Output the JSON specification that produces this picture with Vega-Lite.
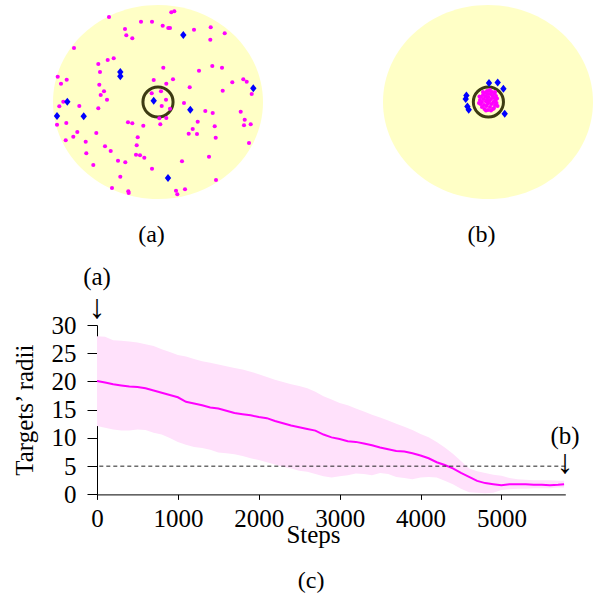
{
  "$schema": "https://vega.github.io/schema/vega-lite/v6.json",
  "padding": {"left": 12, "top": 4, "right": 0, "bottom": 0},
  "config": {
    "view": {"stroke": null},
    "font": "Liberation Serif",
    "axis": {"labelFont": "Liberation Serif", "titleFont": "Liberation Serif", "labelFontSize": 25, "titleFontSize": 25, "titleFontWeight": "normal", "labelColor": "black", "titleColor": "black", "domainColor": "black", "tickColor": "black", "grid": false, "labelFlush": false, "labelOverlap": false},
    "title": {"font": "Liberation Serif", "fontSize": 24, "fontWeight": "normal", "color": "black"}
  },
  "datasets": {
    "arena": [{"x": 0, "y": 0}],
    "goalA": [{"x": 0, "y": 0}],
    "goalB": [{"x": 0.4, "y": 0}],
    "targetsA": [
      {"x": -49, "y": 85}, {"x": 13.3, "y": 89.7}, {"x": 16.3, "y": 90.7}, {"x": -17, "y": 80.3}, {"x": -6, "y": 80.3}, {"x": 4.7, "y": 76.3}, {"x": 10.3, "y": 74}, {"x": 12, "y": 74}, {"x": -33, "y": 73}, {"x": 36, "y": 72.3},
      {"x": 52.7, "y": 74.7}, {"x": 66.7, "y": 68.7}, {"x": -31.7, "y": 66.7}, {"x": -25.7, "y": 63.7}, {"x": 52.3, "y": 62.3}, {"x": -84, "y": 54}, {"x": -50.3, "y": 42}, {"x": -44.3, "y": 43.7}, {"x": -59.7, "y": 38}, {"x": -58, "y": 30},
      {"x": 5.3, "y": 34.3}, {"x": 41, "y": 31.3}, {"x": 54.3, "y": 36}, {"x": 64, "y": 34.3}, {"x": -100.3, "y": 25.3}, {"x": -91.3, "y": 22.3}, {"x": -97, "y": 18.3}, {"x": -58.7, "y": 17.3}, {"x": -4.3, "y": 22}, {"x": 8.3, "y": 18.3},
      {"x": 15, "y": 22.7}, {"x": 31.7, "y": 14.7}, {"x": 74.3, "y": 19.7}, {"x": 85.3, "y": 22.7}, {"x": 88.7, "y": 20.3}, {"x": -54, "y": 10.7}, {"x": -57.3, "y": 7}, {"x": 64.7, "y": 11.3}, {"x": 93.7, "y": 8}, {"x": -6.3, "y": 8.7},
      {"x": 3, "y": 10.7}, {"x": -51, "y": 2.3}, {"x": -94.7, "y": 0.3}, {"x": 8, "y": 2.3}, {"x": -98.7, "y": -4.3}, {"x": -78.7, "y": -4}, {"x": 3.7, "y": -4}, {"x": -59.7, "y": -6.3}, {"x": 26, "y": -1}, {"x": 12, "y": -6.7},
      {"x": 47.3, "y": -9}, {"x": 54.7, "y": -11}, {"x": 82.7, "y": -9.7}, {"x": 1.3, "y": -16.3}, {"x": 8.3, "y": -16}, {"x": 86.7, "y": -17.7}, {"x": -30, "y": -20.3}, {"x": -25.7, "y": -21.3}, {"x": -14.7, "y": -23.7}, {"x": 2.3, "y": -22.3},
      {"x": 39.7, "y": -19.7}, {"x": -101, "y": -22.7}, {"x": -91.7, "y": -21}, {"x": 86, "y": -23.3}, {"x": 92.7, "y": -22.3}, {"x": 56.7, "y": -24.3}, {"x": 34.7, "y": -27}, {"x": 30.7, "y": -31.7}, {"x": 39, "y": -32}, {"x": -80.7, "y": -30},
      {"x": -84.7, "y": -34.7}, {"x": -61.7, "y": -31}, {"x": -20.3, "y": -35.3}, {"x": 57.7, "y": -35.7}, {"x": -92.3, "y": -38.3}, {"x": -72.3, "y": -39.7}, {"x": 91, "y": -41}, {"x": -53, "y": -44.3}, {"x": -21.3, "y": -43.3}, {"x": -47.3, "y": -49},
      {"x": -71.7, "y": -51.3}, {"x": -22, "y": -52.7}, {"x": -18, "y": -53.3}, {"x": -13.7, "y": -55.7}, {"x": 51, "y": -54.7}, {"x": -40, "y": -58.7}, {"x": -32.7, "y": -60.3}, {"x": 24, "y": -59.3}, {"x": -64.7, "y": -63}, {"x": -6, "y": -66.7},
      {"x": -37.7, "y": -74.7}, {"x": 58, "y": -78}, {"x": -46, "y": -86}, {"x": -29.7, "y": -89.3}, {"x": -29.3, "y": -91}, {"x": 18, "y": -88.7}, {"x": 27, "y": -87.3}, {"x": 19.3, "y": -92.3}
    ],
    "agentsA": [
      {"x": 25.3, "y": 67}, {"x": -37.7, "y": 30}, {"x": -37.7, "y": 25.7}, {"x": -90.7, "y": 0.3}, {"x": -101, "y": -14},
      {"x": -74.3, "y": -14.3}, {"x": -4.3, "y": 1.3}, {"x": 32.3, "y": -7.7}, {"x": 95.3, "y": 13.7}, {"x": 10, "y": -76}
    ],
    "targetsB": [
      {"x": -8, "y": 2}, {"x": -7.5, "y": -2}, {"x": -7, "y": 5}, {"x": -6, "y": -5}, {"x": -6, "y": 0}, {"x": -5, "y": 7}, {"x": -4.5, "y": 3}, {"x": -4, "y": -3}, {"x": -3.5, "y": -7}, {"x": -3, "y": 9},
      {"x": -2.5, "y": 5.5}, {"x": -2, "y": 0.5}, {"x": -1.5, "y": -4}, {"x": -1, "y": 2.5}, {"x": -0.5, "y": 8}, {"x": 0, "y": -8}, {"x": 0, "y": -1.5}, {"x": 0.5, "y": 5}, {"x": 1, "y": 11}, {"x": 1.5, "y": 1},
      {"x": 2, "y": -5}, {"x": 2.5, "y": 8}, {"x": 3, "y": 3}, {"x": 3.5, "y": -2}, {"x": 4, "y": 10}, {"x": 4.5, "y": 6}, {"x": 5, "y": -7}, {"x": 5.5, "y": 0}, {"x": 6, "y": 4}, {"x": 6.5, "y": 8.5},
      {"x": 7, "y": -3}, {"x": 7.5, "y": 1.5}, {"x": 8, "y": 6}, {"x": 8.5, "y": -1}, {"x": 9, "y": 3.5}, {"x": -9, "y": -1}, {"x": 3, "y": -8.5}, {"x": -2, "y": -8.5}, {"x": 6, "y": -6}, {"x": -5, "y": 10},
      {"x": 2, "y": 12}, {"x": -1, "y": 11}, {"x": 7, "y": 10}, {"x": 9.5, "y": -4}, {"x": -8.5, "y": 5.5}
    ],
    "agentsB": [
      {"x": 1, "y": 19}, {"x": 9.7, "y": 19.6}, {"x": 15.4, "y": 13.3}, {"x": -22.3, "y": 3}, {"x": -21.6, "y": 6.5},
      {"x": -19.3, "y": -7.7}, {"x": -20.6, "y": -4.4}, {"x": 16.7, "y": -11.7}
    ],
    "radii": [
      {"step": 0, "mean": 20.1, "lo": 12.1, "hi": 28.0}, {"step": 100, "mean": 19.8, "lo": 11.8, "hi": 27.9}, {"step": 200, "mean": 19.5, "lo": 11.5, "hi": 27.3}, {"step": 300, "mean": 19.3, "lo": 11.3, "hi": 27.2},
      {"step": 400, "mean": 19.1, "lo": 11.3, "hi": 27.1}, {"step": 500, "mean": 19.0, "lo": 11.5, "hi": 26.9}, {"step": 600, "mean": 18.8, "lo": 11.4, "hi": 26.6}, {"step": 700, "mean": 18.4, "lo": 10.9, "hi": 26.3},
      {"step": 800, "mean": 18.0, "lo": 10.6, "hi": 25.7}, {"step": 900, "mean": 17.6, "lo": 10.0, "hi": 25.2}, {"step": 1000, "mean": 17.2, "lo": 9.3, "hi": 24.7}, {"step": 1100, "mean": 16.4, "lo": 8.8, "hi": 24.4},
      {"step": 1200, "mean": 16.1, "lo": 8.4, "hi": 24.0}, {"step": 1300, "mean": 15.8, "lo": 8.2, "hi": 23.6}, {"step": 1400, "mean": 15.4, "lo": 7.9, "hi": 23.3}, {"step": 1500, "mean": 15.2, "lo": 7.4, "hi": 23.0},
      {"step": 1600, "mean": 14.8, "lo": 7.3, "hi": 22.7}, {"step": 1700, "mean": 14.4, "lo": 7.1, "hi": 22.4}, {"step": 1800, "mean": 14.2, "lo": 6.8, "hi": 22.1}, {"step": 1900, "mean": 14.0, "lo": 6.4, "hi": 21.7},
      {"step": 2000, "mean": 13.7, "lo": 6.1, "hi": 21.3}, {"step": 2100, "mean": 13.5, "lo": 5.7, "hi": 20.8}, {"step": 2200, "mean": 13.0, "lo": 5.3, "hi": 20.3}, {"step": 2300, "mean": 12.6, "lo": 4.9, "hi": 19.9},
      {"step": 2400, "mean": 12.2, "lo": 4.6, "hi": 19.5}, {"step": 2500, "mean": 11.9, "lo": 4.2, "hi": 19.2}, {"step": 2600, "mean": 11.6, "lo": 4.0, "hi": 18.8}, {"step": 2700, "mean": 11.3, "lo": 3.6, "hi": 18.2},
      {"step": 2800, "mean": 10.6, "lo": 3.2, "hi": 17.4}, {"step": 2900, "mean": 10.1, "lo": 3.0, "hi": 16.8}, {"step": 3000, "mean": 9.8, "lo": 3.2, "hi": 16.2}, {"step": 3100, "mean": 9.4, "lo": 3.4, "hi": 15.8},
      {"step": 3200, "mean": 9.3, "lo": 3.7, "hi": 15.2}, {"step": 3300, "mean": 9.0, "lo": 3.6, "hi": 14.7}, {"step": 3400, "mean": 8.7, "lo": 3.4, "hi": 14.1}, {"step": 3500, "mean": 8.3, "lo": 3.8, "hi": 13.6},
      {"step": 3600, "mean": 8.0, "lo": 3.6, "hi": 13.1}, {"step": 3700, "mean": 7.7, "lo": 3.1, "hi": 12.5}, {"step": 3800, "mean": 7.6, "lo": 2.9, "hi": 12.0}, {"step": 3900, "mean": 7.3, "lo": 2.7, "hi": 11.4},
      {"step": 4000, "mean": 6.9, "lo": 3.0, "hi": 10.7}, {"step": 4100, "mean": 6.4, "lo": 3.1, "hi": 10.1}, {"step": 4200, "mean": 5.7, "lo": 3.0, "hi": 9.3}, {"step": 4300, "mean": 5.2, "lo": 2.4, "hi": 8.3},
      {"step": 4400, "mean": 4.6, "lo": 1.8, "hi": 7.2}, {"step": 4500, "mean": 3.8, "lo": 1.0, "hi": 5.9}, {"step": 4600, "mean": 3.1, "lo": 0.4, "hi": 4.6}, {"step": 4700, "mean": 2.4, "lo": 0.3, "hi": 4.1},
      {"step": 4800, "mean": 2.0, "lo": 0.2, "hi": 3.8}, {"step": 4900, "mean": 1.8, "lo": 0.3, "hi": 3.5}, {"step": 5000, "mean": 1.6, "lo": 0.8, "hi": 3.3}, {"step": 5100, "mean": 1.8, "lo": 0.9, "hi": 2.9},
      {"step": 5200, "mean": 1.8, "lo": 1.0, "hi": 2.7}, {"step": 5300, "mean": 1.8, "lo": 1.0, "hi": 2.6}, {"step": 5400, "mean": 1.7, "lo": 1.1, "hi": 2.5}, {"step": 5500, "mean": 1.7, "lo": 1.1, "hi": 2.5},
      {"step": 5600, "mean": 1.6, "lo": 1.1, "hi": 2.5}, {"step": 5700, "mean": 1.7, "lo": 1.2, "hi": 2.4}, {"step": 5775, "mean": 1.8, "lo": 1.2, "hi": 2.4}
    ],
    "threshold": [{"radius": 5}],
    "notes": [
      {"label": "(a)", "step": 0, "radius": 38.5},
      {"label": "↓", "step": 0, "radius": 33.0},
      {"label": "(b)", "step": 5786, "radius": 10.4},
      {"label": "↓", "step": 5786, "radius": 5.6}
    ]
  },
  "spacing": 17,
  "vconcat": [
    {
      "spacing": 120,
      "bounds": "flush",
      "hconcat": [
        {
          "width": 166, "height": 194,
          "title": {"text": "(a)", "orient": "bottom", "offset": 24, "dx": -28.5},
          "encoding": {
            "x": {"field": "x", "type": "quantitative", "scale": {"domain": [-61, 105], "nice": false, "zero": false}, "axis": null},
            "y": {"field": "y", "type": "quantitative", "scale": {"domain": [-97, 97], "nice": false, "zero": false}, "axis": null}
          },
          "layer": [
            {"data": {"name": "arena"}, "mark": {"type": "point", "shape": "M-1,0A1,0.924,0,1,0,1,0A1,0.924,0,1,0,-1,0Z", "size": 44100, "filled": true, "color": "#ffffc6", "opacity": 1, "strokeWidth": 0}},
            {"data": {"name": "goalA"}, "mark": {"type": "point", "shape": "circle", "size": 908, "filled": false, "stroke": "#3d3b12", "strokeWidth": 3, "opacity": 1}},
            {"data": {"name": "targetsA"}, "mark": {"type": "point", "shape": "circle", "size": 17, "filled": true, "color": "#ff00ff", "opacity": 1}},
            {"data": {"name": "agentsA"}, "mark": {"type": "point", "shape": "M0,-1L0.8,0L0,1L-0.8,0Z", "size": 64, "filled": true, "color": "#0000ff", "opacity": 1}}
          ]
        },
        {
          "width": 210, "height": 194,
          "title": {"text": "(b)", "orient": "bottom", "offset": 24, "dx": -6.5},
          "encoding": {
            "x": {"field": "x", "type": "quantitative", "scale": {"domain": [-105, 105], "nice": false, "zero": false}, "axis": null},
            "y": {"field": "y", "type": "quantitative", "scale": {"domain": [-97, 97], "nice": false, "zero": false}, "axis": null}
          },
          "layer": [
            {"data": {"name": "arena"}, "mark": {"type": "point", "shape": "M-1,0A1,0.924,0,1,0,1,0A1,0.924,0,1,0,-1,0Z", "size": 44100, "filled": true, "color": "#ffffc6", "opacity": 1, "strokeWidth": 0}},
            {"data": {"name": "goalB"}, "mark": {"type": "point", "shape": "circle", "size": 908, "filled": false, "stroke": "#3d3b12", "strokeWidth": 3, "opacity": 1}},
            {"data": {"name": "targetsB"}, "mark": {"type": "point", "shape": "circle", "size": 17, "filled": true, "color": "#ff00ff", "opacity": 1}},
            {"data": {"name": "agentsB"}, "mark": {"type": "point", "shape": "M0,-1L0.8,0L0,1L-0.8,0Z", "size": 64, "filled": true, "color": "#0000ff", "opacity": 1}}
          ]
        }
      ]
    },
    {
      "width": 468.3, "height": 169.4,
      "title": {"text": "(c)", "orient": "bottom", "offset": 22, "dx": -20},
      "layer": [
        {
          "data": {"name": "radii"},
          "mark": {"type": "area", "color": "#ffe1fb", "opacity": 1},
          "encoding": {
            "x": {"field": "step", "type": "quantitative", "scale": {"domain": [0, 5790], "nice": false, "zero": false},
                  "axis": {"title": "Steps", "values": [0, 1000, 2000, 3000, 4000, 5000], "format": "d", "tickSize": 5, "labelPadding": 7, "titleX": 216, "titleY": 48, "titleBaseline": "alphabetic", "titleAlign": "center"}},
            "y": {"field": "lo", "type": "quantitative", "scale": {"domain": [0, 30], "nice": false},
                  "axis": {"title": "Targets’ radii", "values": [0, 5, 10, 15, 20, 25, 30], "tickSize": 10, "labelPadding": 11, "titlePadding": 14}},
            "y2": {"field": "hi"}
          }
        },
        {
          "data": {"name": "radii"},
          "mark": {"type": "line", "color": "#ff00ff", "strokeWidth": 2},
          "encoding": {
            "x": {"field": "step", "type": "quantitative",
                  "axis": {"title": "Steps", "values": [0, 1000, 2000, 3000, 4000, 5000], "format": "d", "tickSize": 5, "labelPadding": 7, "titleX": 216, "titleY": 48, "titleBaseline": "alphabetic", "titleAlign": "center"}},
            "y": {"field": "mean", "type": "quantitative",
                  "axis": {"title": "Targets’ radii", "values": [0, 5, 10, 15, 20, 25, 30], "tickSize": 10, "labelPadding": 11, "titlePadding": 14}}
          }
        },
        {
          "data": {"name": "threshold"},
          "mark": {"type": "rule", "strokeDash": [4, 3], "color": "#222222", "strokeWidth": 1},
          "encoding": {
            "y": {"field": "radius", "type": "quantitative",
                  "axis": {"title": "Targets’ radii", "values": [0, 5, 10, 15, 20, 25, 30], "tickSize": 10, "labelPadding": 11, "titlePadding": 14}}
          }
        },
        {
          "data": {"name": "notes"},
          "mark": {"type": "text", "font": "Liberation Serif", "baseline": "middle", "align": "center", "color": "black"},
          "encoding": {
            "x": {"field": "step", "type": "quantitative",
                  "axis": {"title": "Steps", "values": [0, 1000, 2000, 3000, 4000, 5000], "format": "d", "tickSize": 5, "labelPadding": 7, "titleX": 216, "titleY": 48, "titleBaseline": "alphabetic", "titleAlign": "center"}},
            "y": {"field": "radius", "type": "quantitative",
                  "axis": {"title": "Targets’ radii", "values": [0, 5, 10, 15, 20, 25, 30], "tickSize": 10, "labelPadding": 11, "titlePadding": 14}},
            "text": {"field": "label"},
            "size": {"condition": {"test": "datum.label === '↓'", "value": 34}, "value": 25}
          }
        }
      ]
    }
  ]
}
